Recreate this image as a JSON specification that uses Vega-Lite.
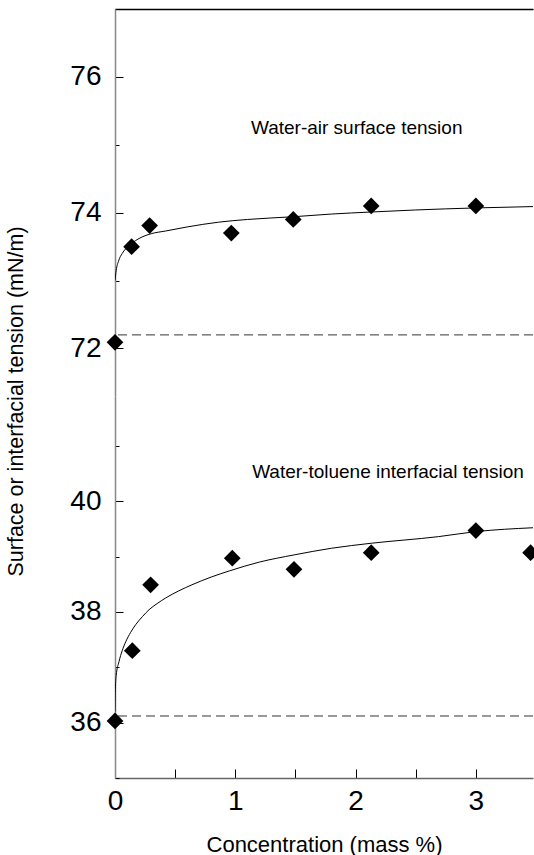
{
  "$schema": "https://vega.github.io/schema/vega-lite/v6.json",
  "padding": {"left": 5, "top": 8, "right": 0, "bottom": 0},
  "spacing": 0,
  "bounds": "flush",
  "config": {
    "view": {"stroke": null},
    "font": "Liberation Sans",
    "axis": {"grid": false, "labelFont": "Liberation Sans", "titleFont": "Liberation Sans", "labelColor": "black", "titleColor": "black", "titleFontWeight": "normal", "tickColor": "black", "labelFlush": false, "format": "~g"}
  },
  "vconcat": [
    {
      "width": 418,
      "height": 387,
      "layer": [
        {
          "data": {"values": [
            {"x": 0.0, "y": 73.0}, {"x": 0.01, "y": 73.15}, {"x": 0.03, "y": 73.29}, {"x": 0.06, "y": 73.4},
            {"x": 0.09, "y": 73.47}, {"x": 0.14, "y": 73.55}, {"x": 0.2, "y": 73.62}, {"x": 0.3, "y": 73.69},
            {"x": 0.42, "y": 73.73}, {"x": 0.6, "y": 73.79}, {"x": 0.86, "y": 73.86}, {"x": 1.1, "y": 73.9},
            {"x": 1.48, "y": 73.94}, {"x": 1.8, "y": 73.98}, {"x": 2.13, "y": 74.01}, {"x": 2.5, "y": 74.04},
            {"x": 3.0, "y": 74.07}, {"x": 3.475, "y": 74.09}
          ]},
          "mark": {"type": "line", "color": "black", "strokeWidth": 1, "interpolate": "monotone", "clip": true},
          "encoding": {
            "x": {"field": "x", "type": "quantitative", "scale": {"domain": [0, 3.475], "nice": false, "zero": false},
              "axis": {"orient": "top", "labels": false, "ticks": false, "title": null, "domainColor": "black", "domainWidth": 1.5}},
            "y": {"field": "y", "type": "quantitative", "scale": {"domain": [71.3, 77], "nice": false, "zero": false},
              "axis": {
                "values": [72, 73, 74, 75, 76, 77],
                "labelExpr": "datum.value % 2 === 0 ? datum.label : ''",
                "tickSize": {"condition": {"test": "datum.value % 2 === 1", "value": -4}, "value": -8},
                "labelFontSize": 28, "labelPadding": 22,
                "domainColor": "#888", "domainWidth": 1.5,
                "title": "Surface or interfacial tension (mN/m)", "titleFontSize": 21.5,
                "titleX": -99, "titleY": 392, "titleAngle": -90, "titleAlign": "center", "titleBaseline": "middle"
              }}
          }
        },
        {
          "data": {"values": [{"y": 72.2}]},
          "mark": {"type": "rule", "color": "#333", "strokeWidth": 1, "strokeDash": [9, 5]},
          "encoding": {"y": {"field": "y", "type": "quantitative"}}
        },
        {
          "data": {"values": [
            {"x": 0.0, "y": 72.09}, {"x": 0.138, "y": 73.5}, {"x": 0.288, "y": 73.81}, {"x": 0.967, "y": 73.7},
            {"x": 1.482, "y": 73.9}, {"x": 2.13, "y": 74.1}, {"x": 3.0, "y": 74.1}
          ]},
          "mark": {"type": "point", "shape": "diamond", "filled": true, "color": "black", "size": 280, "opacity": 1},
          "encoding": {"x": {"field": "x", "type": "quantitative"}, "y": {"field": "y", "type": "quantitative"}}
        },
        {
          "data": {"values": [{"x": 1.13, "y": 75.25, "label": "Water-air surface tension"}]},
          "mark": {"type": "text", "align": "left", "baseline": "middle", "fontSize": 19, "font": "Liberation Sans", "color": "black"},
          "encoding": {"x": {"field": "x", "type": "quantitative"}, "y": {"field": "y", "type": "quantitative"}, "text": {"field": "label"}}
        }
      ]
    },
    {
      "width": 418,
      "height": 382,
      "layer": [
        {
          "data": {"values": [
            {"x": 0.0, "y": 36.2}, {"x": 0.003, "y": 36.6}, {"x": 0.01, "y": 36.85}, {"x": 0.033, "y": 37.1},
            {"x": 0.06, "y": 37.3}, {"x": 0.089, "y": 37.46}, {"x": 0.13, "y": 37.63}, {"x": 0.172, "y": 37.77},
            {"x": 0.23, "y": 37.92}, {"x": 0.283, "y": 38.04}, {"x": 0.35, "y": 38.15}, {"x": 0.42, "y": 38.25},
            {"x": 0.53, "y": 38.38}, {"x": 0.64, "y": 38.49}, {"x": 0.8, "y": 38.63}, {"x": 0.95, "y": 38.74},
            {"x": 1.2, "y": 38.9}, {"x": 1.49, "y": 39.03}, {"x": 1.8, "y": 39.15}, {"x": 2.13, "y": 39.24},
            {"x": 2.69, "y": 39.36}, {"x": 3.0, "y": 39.45}, {"x": 3.475, "y": 39.52}
          ]},
          "mark": {"type": "line", "color": "black", "strokeWidth": 1, "interpolate": "monotone", "clip": true},
          "encoding": {
            "x": {"field": "x", "type": "quantitative", "scale": {"domain": [0, 3.475], "nice": false, "zero": false},
              "axis": {
                "values": [0, 0.5, 1, 1.5, 2, 2.5, 3, 3.5],
                "labelExpr": "datum.value % 1 === 0 ? datum.label : ''",
                "tickSize": -9, "labelFontSize": 28, "labelPadding": 18,
                "domainColor": "#666", "domainWidth": 1.5,
                "title": "Concentration (mass %)", "titleFontSize": 22, "titlePadding": 19
              }},
            "y": {"field": "y", "type": "quantitative", "scale": {"domain": [35, 41.9], "nice": false, "zero": false},
              "axis": {
                "values": [35, 36, 37, 38, 39, 40, 41],
                "labelExpr": "datum.value % 2 === 0 ? datum.label : ''",
                "tickSize": {"condition": {"test": "datum.value % 2 === 1", "value": -4}, "value": -8},
                "labelFontSize": 28, "labelPadding": 22,
                "domainColor": "#888", "domainWidth": 1.5,
                "title": null
              }}
          }
        },
        {
          "data": {"values": [{"y": 36.12}]},
          "mark": {"type": "rule", "color": "#333", "strokeWidth": 1, "strokeDash": [9, 5]},
          "encoding": {"y": {"field": "y", "type": "quantitative"}}
        },
        {
          "data": {"values": [
            {"x": 0.0, "y": 36.03}, {"x": 0.144, "y": 37.3}, {"x": 0.296, "y": 38.49}, {"x": 0.975, "y": 38.97},
            {"x": 1.488, "y": 38.77}, {"x": 2.13, "y": 39.07}, {"x": 3.0, "y": 39.47}, {"x": 3.455, "y": 39.07}
          ]},
          "mark": {"type": "point", "shape": "diamond", "filled": true, "color": "black", "size": 280, "opacity": 1},
          "encoding": {"x": {"field": "x", "type": "quantitative"}, "y": {"field": "y", "type": "quantitative"}}
        },
        {
          "data": {"values": [{"x": 1.14, "y": 40.53, "label": "Water-toluene interfacial tension"}]},
          "mark": {"type": "text", "align": "left", "baseline": "middle", "fontSize": 19, "font": "Liberation Sans", "color": "black"},
          "encoding": {"x": {"field": "x", "type": "quantitative"}, "y": {"field": "y", "type": "quantitative"}, "text": {"field": "label"}}
        }
      ]
    }
  ]
}
